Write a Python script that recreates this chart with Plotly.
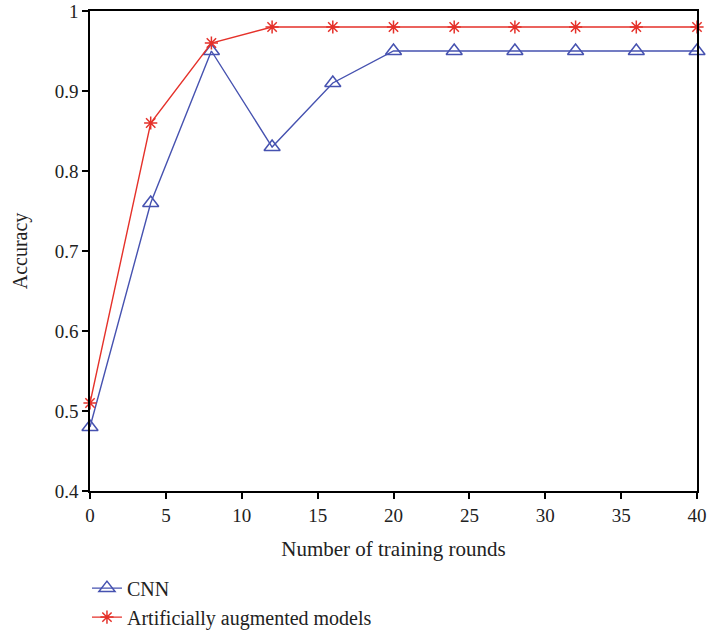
import plotly.graph_objects as go

rounds = [0, 4, 8, 12, 16, 20, 24, 28, 32, 36, 40]
cnn_acc = [0.48, 0.76, 0.95, 0.83, 0.91, 0.95, 0.95, 0.95, 0.95, 0.95, 0.95]
aug_acc = [0.51, 0.86, 0.96, 0.98, 0.98, 0.98, 0.98, 0.98, 0.98, 0.98, 0.98]

x_ticks = [0, 5, 10, 15, 20, 25, 30, 35, 40]
y_ticks = [0.4, 0.5, 0.6, 0.7, 0.8, 0.9, 1.0]
y_tick_labels = ["0.4", "0.5", "0.6", "0.7", "0.8", "0.9", "1"]

BLUE = "#4652B0"
RED = "#E5312A"
FONT = "Liberation Serif"

fig = go.Figure()
fig.add_trace(go.Scatter(
    x=rounds, y=cnn_acc, name="CNN", mode="lines+markers",
    line=dict(color=BLUE, width=1.4),
    marker=dict(symbol="triangle-up-open", size=14, color=BLUE, line=dict(width=1.5, color=BLUE)),
    cliponaxis=False,
))
fig.add_trace(go.Scatter(
    x=rounds, y=aug_acc, name="Artificially augmented models", mode="lines+markers",
    line=dict(color=RED, width=1.4),
    marker=dict(symbol="asterisk-open", size=11, color=RED, line=dict(width=1.5, color=RED)),
    cliponaxis=False,
))

axis_common = dict(
    showline=True, linecolor="black", linewidth=1.5, mirror=True,
    ticks="outside", ticklen=6, tickwidth=1.5, tickcolor="black",
    showgrid=False, zeroline=False, automargin=False,
    tickfont=dict(family=FONT, size=19, color="#222"),
)

fig.update_layout(
    width=707, height=633,
    margin=dict(l=90, r=10, t=11, b=142),
    paper_bgcolor="white", plot_bgcolor="white",
    font=dict(family=FONT, size=20, color="#222"),
    xaxis=dict(range=[0, 40], tickvals=x_ticks, **axis_common,
               title=dict(text="Number of training rounds", font=dict(family=FONT, size=21), standoff=17)),
    yaxis=dict(range=[0.4, 1.0], tickvals=y_ticks, ticktext=y_tick_labels, **axis_common,
               title=dict(text="Accuracy", font=dict(family=FONT, size=20), standoff=22)),
    showlegend=True,
    legend=dict(orientation="v", x=-0.005, xanchor="left", yref="container", y=0.048, yanchor="middle",
                font=dict(family=FONT, size=20), bgcolor="rgba(0,0,0,0)", tracegroupgap=3,
                itemwidth=30),
)

fig.write_html("out.html", config={"displayModeBar": False},
               post_script="document.body.style.margin='0';")
